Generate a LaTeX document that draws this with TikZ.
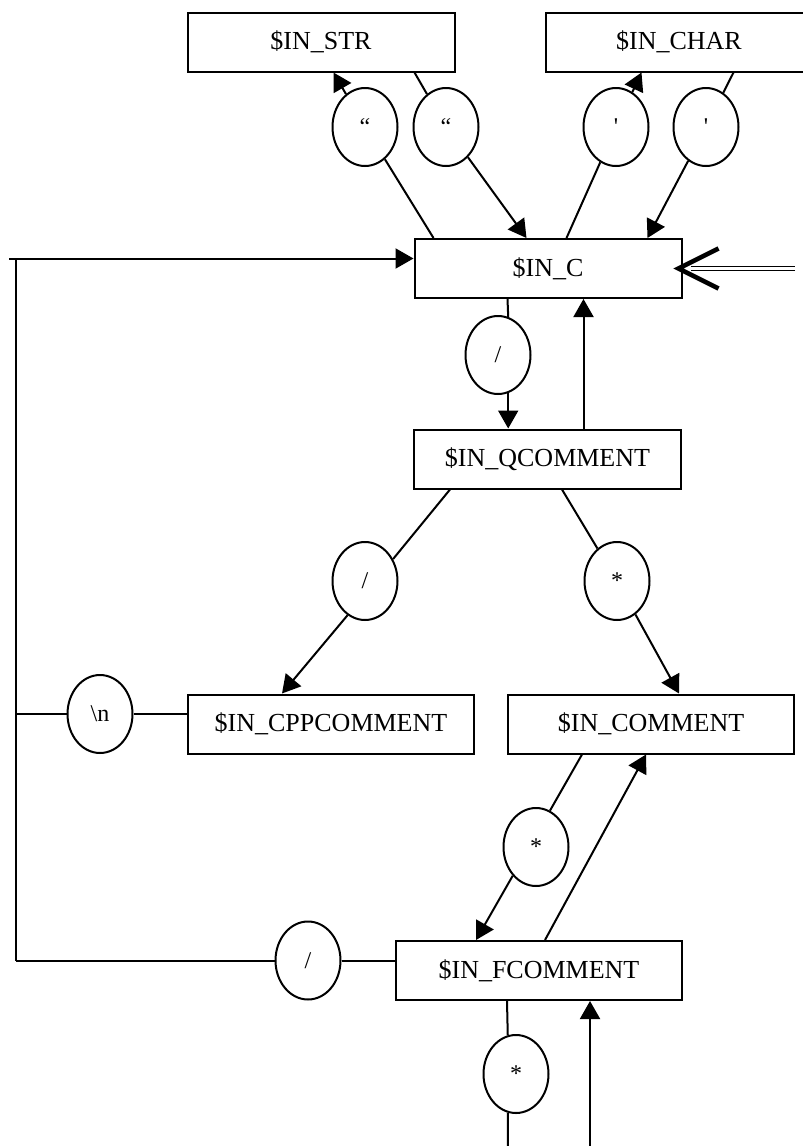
\documentclass[tikz,border=0pt]{standalone}
\usepackage{fontspec}
\setmainfont{Liberation Serif}
\usepackage{tikz}
\usetikzlibrary{positioning,shapes,arrows.meta}

\begin{document}
\begin{tikzpicture}[x=1pt,y=-1pt,line width=2pt,
  stbox/.style={draw,rectangle,minimum width=267pt,minimum height=59pt,inner sep=0pt,font=\fontsize{26}{30}\selectfont},
  wide/.style={minimum width=286pt},
  sym/.style={draw,ellipse,fill=white,minimum width=65pt,minimum height=78pt,inner sep=0pt,font=\fontsize{24}{28}\selectfont},
  tr/.style={-{Triangle[length=18pt,width=20pt]}}]
\useasboundingbox (0,0) rectangle (803,1146);

% states
\node[stbox] (str) at (321,42) {\$IN\_STR};
\node[stbox] (chr) at (679,42) {\$IN\_CHAR};
\node[stbox] (cin) at (548,268.5) {\$IN\_C};
\node[stbox] (qcom) at (547.5,459) {\$IN\_QCOMMENT};
\node[stbox,wide] (cpp) at (331,724) {\$IN\_CPPCOMMENT};
\node[stbox,wide] (com) at (651,724) {\$IN\_COMMENT};
\node[stbox,wide] (fcom) at (539,970.5) {\$IN\_FCOMMENT};

% inputs
\node[sym] (q1) at (365,127) {``};
\node[sym] (q2) at (446,127) {``};
\node[sym] (a1) at (616,127) {\textquotesingle};
\node[sym] (a2) at (706,127) {\textquotesingle};
\node[sym] (s1) at (498,355) {/};
\node[sym] (s2) at (365,581) {/};
\node[sym] (t1) at (617,581) {*};
\node[sym] (nl) at (100,714) {\textbackslash n};
\node[sym] (t2) at (536,847) {*};
\node[sym] (s3) at (308,960.5) {/};
\node[sym] (t3) at (516,1074) {*};

\coordinate (ctop) at (9,258.5);
\coordinate (trunk) at (16,258.5);
\coordinate (init) at (795,268.5);
\coordinate (fout) at (508,1150);
\coordinate (fin) at (590,1150);

% strings and chars
\draw ([xshift=20]cin.north west) -- (q1);
\draw[tr] (q1) -- ([xshift=147]str.south west);
\draw ([xshift=228]str.south west) -- (q2);
\draw[tr] (q2) -- ([xshift=113]cin.north west);
\draw ([xshift=153]cin.north west) -- (a1);
\draw[tr] (a1) -- ([xshift=97]chr.south west);
\draw ([xshift=189]chr.south west) -- (a2);
\draw[tr] (a2) -- ([xshift=234]cin.north west);

% start
\draw[double,double distance=3pt,line width=1pt] (init) -- ([xshift=8]cin.east);
\draw[line width=4.5pt] ([xshift=36,yshift=20]cin.east) -- ([xshift=-4]cin.east) -- ([xshift=36,yshift=-20]cin.east);

% comments
\draw ([xshift=94]cin.south west) -- (s1.75);
\draw[tr] (s1.-75) -- (s1.-75 |- qcom.north);
\draw[tr] ([xshift=36]qcom.north) -- ([xshift=36]qcom.north |- cin.south);
\draw ([xshift=37]qcom.south west) -- (s2.38);
\draw[tr] (s2.243) -- ([xshift=95]cpp.north west);
\draw ([xshift=149]qcom.south west) -- (t1);
\draw[tr] (t1) -- ([xshift=172]com.north west);
\draw ([xshift=75]com.south west) -- (t2.69);
\draw[tr] (t2.231) -- ([xshift=81]fcom.north west);
\draw[tr] ([xshift=150]fcom.north west) -- ([xshift=139]com.south west);
\draw ([xshift=112]fcom.south west) -- (t3.102);
\draw (t3.258) -- (fout);
\draw[tr] (fin) -- (fin |- fcom.south);

% back to IN_C
\draw ([yshift=10]cpp.west) -- (nl);
\draw (nl) -- (nl -| trunk);
\draw ([yshift=10]fcom.west) -- (s3);
\draw (s3) -- (s3 -| trunk);
\draw (trunk) -- (trunk |- s3);
\draw[tr] (ctop) -- ([yshift=10]cin.west);
\end{tikzpicture}
\end{document}
